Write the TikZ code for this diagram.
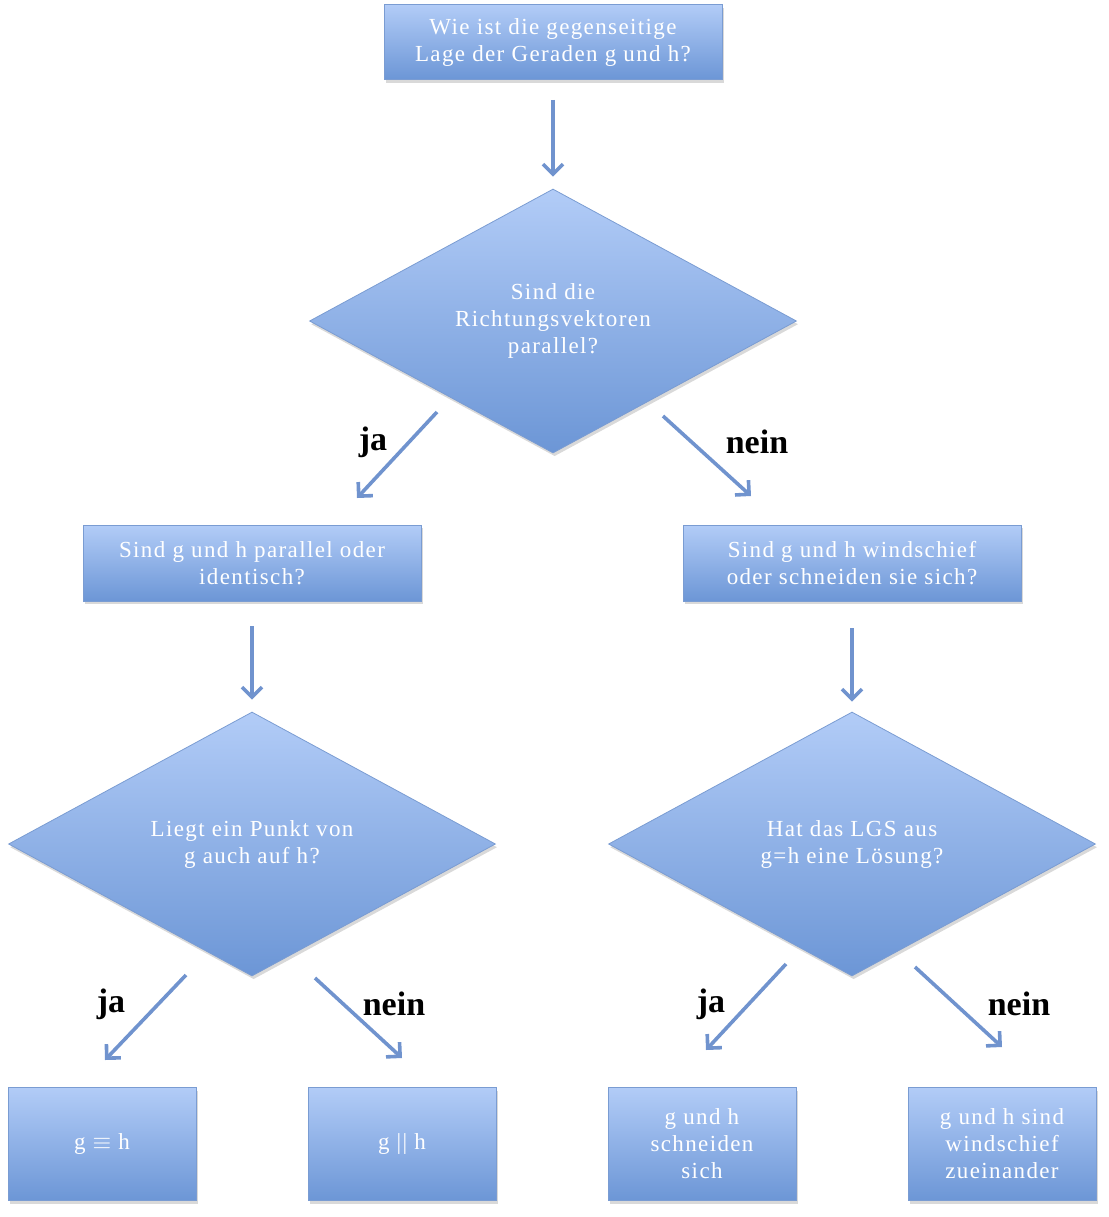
\documentclass[tikz,border=0pt]{standalone}
\usepackage{fontspec}
\setmainfont{Liberation Serif}
\usetikzlibrary{shapes.geometric,arrows.meta,shadows}
\definecolor{boxtop}{RGB}{178,204,247}
\definecolor{boxbot}{RGB}{108,150,214}
\definecolor{boxline}{RGB}{122,156,210}
\definecolor{pfeilfarbe}{RGB}{112,147,206}
\tikzset{
frage/.style={draw=boxline,top color=boxtop,bottom color=boxbot,text=white,align=center,font=\fontsize{11.5}{13.5}\selectfont\addfontfeature{LetterSpace=6},drop shadow={shadow xshift=0.8pt,shadow yshift=-1.6pt,opacity=0.3}},
kasten/.style={frage,rectangle,inner sep=0pt},
raute/.style={frage,diamond,aspect=1.85,inner sep=0pt,minimum width=243.5pt,minimum height=132pt},
pfeil/.style={draw=pfeilfarbe,line width=1.8pt,-{Straight Barb[length=5pt,width=10pt]}},
antwort/.style={font=\fontsize{17}{20}\selectfont\bfseries}
}
\begin{document}
\begin{tikzpicture}[x=0.5pt,y=-0.5pt]
\useasboundingbox(0,0)rectangle(1109,1217);
\node[kasten,minimum width=169pt,minimum height=37.5pt](start)at(553,42){Wie ist die gegenseitige\\Lage der Geraden g und h?};
\node[raute](lage)at(553,321){Sind die\\Richtungsvektoren\\parallel?};
\node[kasten,minimum width=169pt,minimum height=38pt](ident)at(252,563){Sind g und h parallel oder\\identisch?};
\node[kasten,minimum width=169pt,minimum height=38pt](schnitt)at(852,563){Sind g und h windschief\\oder schneiden sie sich?};
\node[raute](punkt)at(252,844){Liegt ein Punkt von\\g auch auf h?};
\node[raute](lgs)at(852,844){Hat das LGS aus\\g=h eine Lösung?};
\node[kasten,minimum width=94pt,minimum height=56.5pt](gleich)at(102,1144){g $\equiv$ h};
\node[kasten,minimum width=94pt,minimum height=56.5pt](para)at(402,1144){g || h};
\node[kasten,minimum width=94pt,minimum height=56.5pt](schneid)at(702,1144){g und h\\schneiden\\sich};
\node[kasten,minimum width=94pt,minimum height=56.5pt](wind)at(1002,1144){g und h sind\\windschief\\zueinander};
% senkrechte Pfeile
\draw[pfeil,shorten <=10pt,shorten >=6pt](start)--(lage);
\draw[pfeil,shorten <=12.5pt,shorten >=6pt](ident)--(punkt);
\draw[pfeil,shorten <=13.5pt,shorten >=5pt](schnitt)--(lgs);
% schraege Pfeile
\coordinate(ja1a)at(437,412);\coordinate(ja1b)at(357,498);
\coordinate(nein1a)at(663,416);\coordinate(nein1b)at(751,496);
\coordinate(ja2a)at(186,975);\coordinate(ja2b)at(105,1060);
\coordinate(nein2a)at(315,978);\coordinate(nein2b)at(402,1058);
\coordinate(ja3a)at(786,964);\coordinate(ja3b)at(706,1050);
\coordinate(nein3a)at(915,967);\coordinate(nein3b)at(1002,1047);
\draw[pfeil](ja1a)--(ja1b);
\draw[pfeil](nein1a)--(nein1b);
\draw[pfeil](ja2a)--(ja2b);
\draw[pfeil](nein2a)--(nein2b);
\draw[pfeil](ja3a)--(ja3b);
\draw[pfeil](nein3a)--(nein3b);
\node[antwort](l1)at(373,442){ja};
\node[antwort](l2)at(757,442){nein};
\node[antwort](l3)at(111,1004){ja};
\node[antwort](l4)at(394,1004){nein};
\node[antwort](l5)at(711,1004){ja};
\node[antwort](l6)at(1019,1004){nein};
\end{tikzpicture}
\end{document}
